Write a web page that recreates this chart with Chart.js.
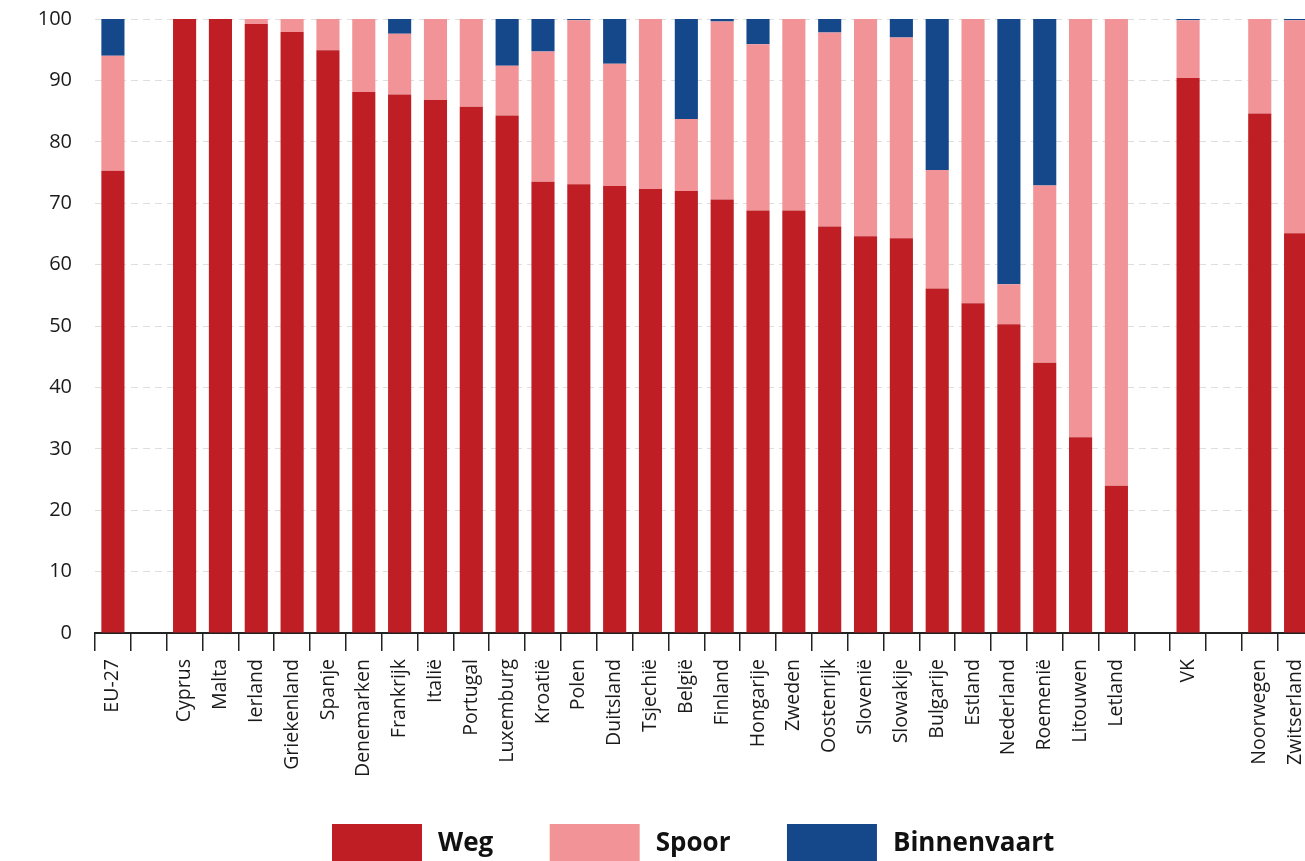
<!DOCTYPE html>
<html lang="nl">
<head>
<meta charset="utf-8">
<title>Goederenvervoer per modaliteit</title>
<script src="https://cdn.jsdelivr.net/npm/chart.js@4/dist/chart.umd.min.js"></script>
<style>
  html, body { margin: 0; padding: 0; overflow: hidden; background: #ffffff; }
  #wrap { position: absolute; left: 0; top: 0; width: 1327px; height: 874px; }
</style>
</head>
<body>
<div id="wrap"><canvas id="chart" width="1327" height="874"></canvas></div>
<script>
// Landen (lege labels = witruimte tussen de groepen)
const categories = ['EU-27', '', 'Cyprus', 'Malta', 'Ierland', 'Griekenland', 'Spanje', 'Denemarken',
  'Frankrijk', 'Italië', 'Portugal', 'Luxemburg', 'Kroatië', 'Polen', 'Duitsland', 'Tsjechië', 'België',
  'Finland', 'Hongarije', 'Zweden', 'Oostenrijk', 'Slovenië', 'Slowakije', 'Bulgarije', 'Estland',
  'Nederland', 'Roemenië', 'Litouwen', 'Letland', '', 'VK', '', 'Noorwegen', 'Zwitserland'];

// Aandeel per modaliteit (%)
const weg = [75.3, null, 100, 100, 99.2, 97.9, 94.9, 88.1, 87.7, 86.8, 85.7, 84.3, 73.5, 73.1, 72.8, 72.3,
  72.0, 70.6, 68.8, 68.8, 66.2, 64.6, 64.3, 56.1, 53.7, 50.3, 44.0, 31.9, 24.0, null, 90.4, null, 84.6, 65.1];
const spoor = [18.7, null, 0, 0, 0.8, 2.1, 5.1, 11.9, 9.9, 13.2, 14.3, 8.1, 21.2, 26.7, 19.9, 27.7,
  11.7, 29.0, 27.1, 31.2, 31.6, 35.4, 32.7, 19.3, 46.3, 6.5, 28.9, 68.1, 76.0, null, 9.4, null, 15.4, 34.7];
const binnenvaart = [6.0, null, 0, 0, 0, 0, 0, 0, 2.4, 0, 0, 7.6, 5.3, 0.2, 7.3, 0,
  16.3, 0.4, 4.1, 0, 2.2, 0, 3.0, 24.6, 0, 43.2, 27.1, 0, 0, null, 0.2, null, 0, 0.2];

const yTicks = [0, 10, 20, 30, 40, 50, 60, 70, 80, 90, 100];

const seriesNames = ['Weg', 'Spoor', 'Binnenvaart'];
const seriesColors = ['#be1e24', '#f29497', '#15488b'];

const FONT = "'Open Sans', 'Noto Sans', sans-serif";

// Legenda onder de grafiek: grote kleurblokken met vette tekst
const blockLegend = {
  id: 'blockLegend',
  afterDraw(chart) {
    const ctx = chart.ctx;
    const boxW = 90, boxH = 40, textGap = 16, itemGap = 56.5;
    const top = 824;
    let x = 332;
    ctx.save();
    ctx.font = "bold 26px " + FONT;
    ctx.textBaseline = 'middle';
    ctx.textAlign = 'left';
    chart.data.datasets.forEach(ds => {
      const tw = ctx.measureText(ds.label).width;
      ctx.fillStyle = ds.backgroundColor;
      ctx.fillRect(x, top, boxW, boxH);
      ctx.fillStyle = '#111111';
      ctx.fillText(ds.label, x + boxW + textGap, top + boxH / 2);
      x += boxW + textGap + tw + itemGap;
    });
    ctx.restore();
  }
};

new Chart(document.getElementById('chart'), {
  type: 'bar',
  data: {
    labels: categories,
    datasets: [weg, spoor, binnenvaart].map((values, i) => ({
      label: seriesNames[i],
      data: values,
      backgroundColor: seriesColors[i],
      borderWidth: 0,
      barPercentage: 0.645,
      categoryPercentage: 1.0
    }))
  },
  plugins: [blockLegend],
  options: {
    responsive: false,
    animation: false,
    devicePixelRatio: 1,
    layout: { padding: { top: 19, right: 0, bottom: 81, left: 0 } },
    plugins: {
      tooltip: { enabled: false },
      legend: { display: false }
    },
    scales: {
      x: {
        stacked: true,
        border: { display: true, color: '#222222', width: 2 },
        grid: {
          offset: true,
          drawOnChartArea: false,
          drawTicks: true,
          tickLength: 18,
          color: '#222222',
          lineWidth: 1.5
        },
        ticks: {
          autoSkip: false,
          minRotation: 90,
          maxRotation: 90,
          padding: 8,
          color: '#1a1a1a',
          font: { family: FONT, size: 19.5 }
        },
        afterFit: (scale) => { scale.height = 160; }
      },
      y: {
        stacked: true,
        min: 0,
        max: 100,
        afterBuildTicks: (scale) => { scale.ticks = yTicks.map(v => ({ value: v })); },
        border: { display: false, dash: [7, 5] },
        grid: {
          drawTicks: false,
          color: '#dedede',
          lineWidth: 1
        },
        ticks: {
          padding: 23,
          color: '#1a1a1a',
          font: { family: FONT, size: 20 }
        },
        afterFit: (scale) => {
          scale.width = 95;
          scale.paddingTop = 0;
          scale.paddingBottom = 0;
        }
      }
    }
  }
});
</script>
</body>
</html>
